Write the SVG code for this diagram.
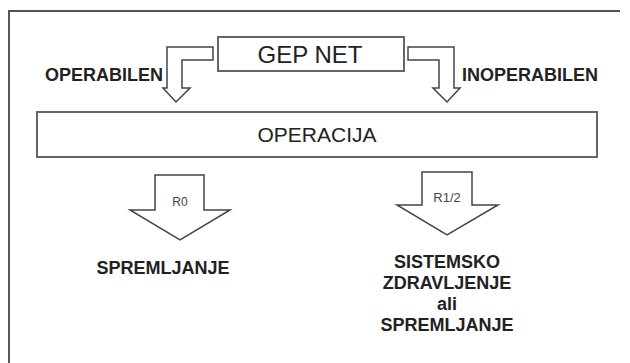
<svg xmlns="http://www.w3.org/2000/svg" width="630" height="363" viewBox="0 0 630 363">
<style>
.frame{fill:none;stroke:#555;stroke-width:2}
.box{fill:#fff;stroke:#666;stroke-width:2}
.arr{fill:#fff;stroke:#444;stroke-width:1.5;stroke-linejoin:miter}
.big{font-family:"Liberation Sans",Arial,sans-serif;fill:#222;text-anchor:middle}
.sm{font-family:"Liberation Sans",Arial,sans-serif;fill:#444;text-anchor:middle}
.lbl{font-family:"Liberation Sans",Arial,sans-serif;font-weight:bold;fill:#222;text-anchor:middle;font-size:18px}
</style>
<rect width="630" height="363" fill="#fff"/>
<polyline class="frame" points="9,363 9,11 620,11"/>
<g id="connectors">
<path class="arr" d="M213,47 L167,47 L167,88 L163,88 L176,102 L190,88 L182,88 L182,60 L213,60 Z"/>
<path class="arr" d="M408,47 L454,47 L454,88 L460,88 L447,102 L433,88 L439,88 L439,60 L408,60 Z"/>
<path class="arr" d="M155,175 L204,175 L204,210 L230,210 L180,240 L130,210 L155,210 Z"/>
<path class="arr" d="M422,172 L472,172 L472,205 L498,205 L447,235 L397,205 L422,205 Z"/>
</g>
<g id="gepnet">
<rect class="box" x="218" y="37" width="186" height="34"/>
<text class="big" x="310" y="63" font-size="24">GEP NET</text>
</g>
<g id="operacija">
<rect class="box" x="37" y="112" width="560" height="45"/>
<text class="big" x="317" y="142" font-size="21">OPERACIJA</text>
</g>
<g id="operabilen">
<text class="lbl" x="104" y="81">OPERABILEN</text>
</g>
<g id="inoperabilen">
<text class="lbl" x="530" y="81">INOPERABILEN</text>
</g>
<g id="r0">
<text class="sm" x="180" y="206" font-size="12">R0</text>
</g>
<g id="r12">
<text class="sm" x="447" y="202" font-size="13">R1/2</text>
</g>
<g id="spremljanje">
<text class="lbl" x="163" y="274">SPREMLJANJE</text>
</g>
<g id="sistemsko">
<text class="lbl" x="447" y="268">SISTEMSKO</text>
<text class="lbl" x="447" y="289">ZDRAVLJENJE</text>
<text class="lbl" x="447" y="310">ali</text>
<text class="lbl" x="447" y="331">SPREMLJANJE</text>
</g>
</svg>
